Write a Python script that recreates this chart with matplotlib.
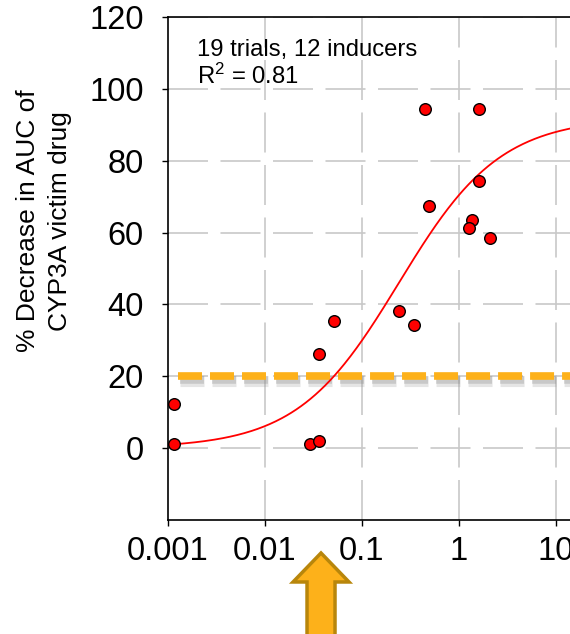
import numpy as np
import matplotlib
matplotlib.use("Agg")
from matplotlib import pyplot as plt
from matplotlib.patches import Polygon
import matplotlib.patheffects as pe

plt.rcParams['font.family'] = ['Liberation Sans', 'DejaVu Sans']
plt.rcParams['mathtext.fontset'] = 'custom'
plt.rcParams['mathtext.rm'] = 'Liberation Sans'
plt.rcParams['mathtext.it'] = 'Liberation Sans'

# observed points (inducer ratio vs % decrease in AUC)
obs_x = [0.00115, 0.00115, 0.029, 0.036, 0.036, 0.051, 0.243, 0.344,
         0.443, 1.62, 1.62, 0.494, 1.36, 1.28, 2.07]
obs_y = [12.4, 1.2, 1.2, 2.1, 26.3, 35.3, 38.2, 34.3,
         94.4, 94.4, 74.4, 67.3, 63.4, 61.3, 58.4]

# fitted Emax curve
emax = 92.0
ec50 = 0.24
hill = 0.83
cutoff = 20          # % decrease threshold
arrow_x = 0.0378     # where the arrow points

x_ticks = [0.001, 0.01, 0.1, 1, 10]
x_labels = ['0.001', '0.01', '0.1', '1', '10']
y_ticks = [0, 20, 40, 60, 80, 100, 120]

W, H = 570, 634
fig = plt.figure(figsize=(W / 100, H / 100), dpi=100)
ax = fig.add_axes([168 / W, 114 / H, 432 / W, 503 / H])

ax.set_xscale('log')
ax.set_xlim(1e-3, 10 ** (-3 + 432 / 97))
ax.set_ylim(-20, 120)

# grid
for yv in y_ticks:
    ax.axhline(yv, color='#c8c8c8', lw=1.2, dashes=(24, 7.5), zorder=0)
for xv in x_ticks[1:]:
    ax.axvline(xv, color='#c8c8c8', lw=1.2, dashes=(24, 7.5), zorder=0)

# threshold line with soft shadow
ax.plot([0.00128, 100], [cutoff, cutoff], color='#fdb11a', lw=5.5,
        dashes=(3.14, 1.05), solid_capstyle='butt', zorder=2,
        path_effects=[pe.SimpleLineShadow(offset=(1.5, -3.5), shadow_color='#999999', alpha=0.25,
                                          linewidth=8),
                      pe.SimpleLineShadow(offset=(1, -3), shadow_color='#888888', alpha=0.3),
                      pe.Normal()])

# fitted curve
xc = np.logspace(np.log10(0.0011), 2, 400)
yc = emax * xc ** hill / (ec50 ** hill + xc ** hill)
ax.plot(xc, yc, color='#ff0000', lw=1.3, zorder=3)

ax.scatter(obs_x, obs_y, s=70, c='#ff0000', edgecolors='black', linewidths=1.0, zorder=4)

ax.text(0.002, 113.8, '19 trials, 12 inducers\nR$^2$ = 0.81', fontsize=17.2,
        va='top', ha='left', linespacing=1.1)

ax.set_xticks(x_ticks)
ax.set_xticklabels(x_labels)
ax.xaxis.set_minor_locator(matplotlib.ticker.NullLocator())
ax.set_yticks(y_ticks)
ax.tick_params(axis='both', direction='out', length=4.5, width=1, labelsize=23.5)
ax.tick_params(axis='x', pad=7)
ax.tick_params(axis='y', pad=13)
ax.spines['right'].set_visible(False)
for s in ['left', 'bottom', 'top']:
    ax.spines[s].set_linewidth(1.2)

fig.text(44 / W, 1 - 221 / H, '% Decrease in AUC of\nCYP3A victim drug',
         rotation=90, ha='center', va='center', fontsize=19, linespacing=1.42)

# block arrow below the axis
cx = ax.transData.transform((arrow_x, 0))[0]
tip, neck, foot = H - 553, H - 582, -20
hw, sw = 28, 14
verts = [(cx, tip), (cx + hw, neck), (cx + sw, neck), (cx + sw, foot),
         (cx - sw, foot), (cx - sw, neck), (cx - hw, neck)]
verts = [(vx / W, vy / H) for vx, vy in verts]
fig.add_artist(Polygon(verts, closed=True, transform=fig.transFigure,
                       facecolor='#fdb11a', edgecolor='#b8860b', lw=2.5))

fig.savefig('out.png', dpi=100)
